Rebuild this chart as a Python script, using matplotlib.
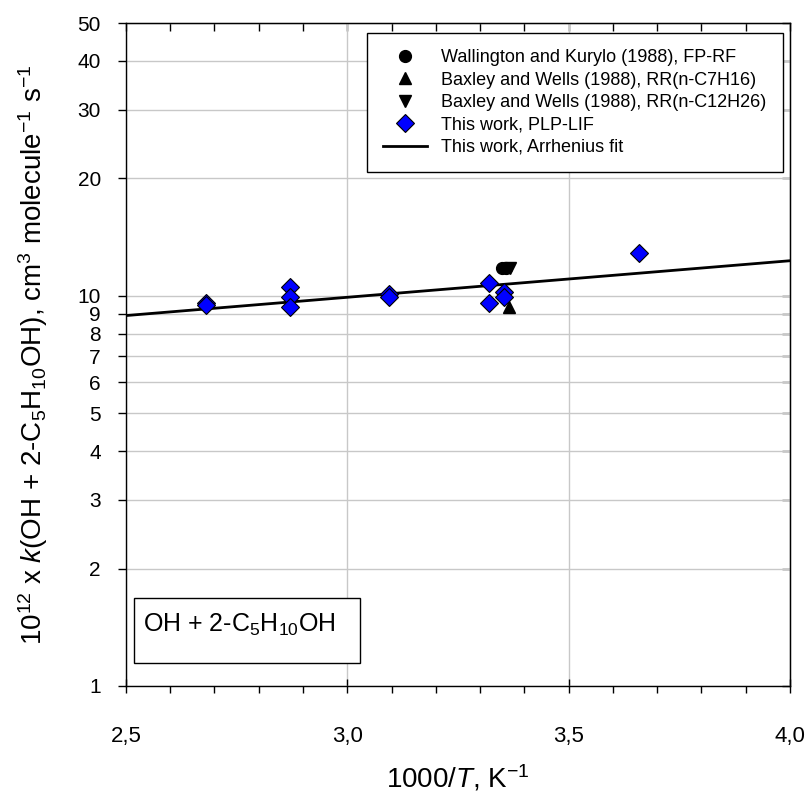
import numpy as np
import matplotlib
matplotlib.use("Agg")
import matplotlib.pyplot as plt
from matplotlib.patches import Rectangle
from matplotlib.ticker import FixedLocator, FixedFormatter, MultipleLocator, NullFormatter

plt.rcParams['font.family'] = ['Liberation Sans', 'DejaVu Sans']
plt.rcParams['mathtext.fontset'] = 'custom'
plt.rcParams['mathtext.rm'] = 'Liberation Sans'
plt.rcParams['mathtext.it'] = 'Liberation Sans:italic'

# Wallington and Kurylo (1988), FP-RF
wk_x = [3.350, 3.358]
wk_y = [11.8, 11.8]
# Baxley and Wells (1988), RR(n-C7H16)
bw7_x = [3.365]
bw7_y = [9.35]
# Baxley and Wells (1988), RR(n-C12H26)
bw12_x = [3.368]
bw12_y = [11.8]
# This work, PLP-LIF
tw_x = [2.68, 2.68, 2.87, 2.87, 2.87, 3.095, 3.095, 3.320, 3.320, 3.353, 3.355, 3.659]
tw_y = [9.6, 9.45, 10.55, 9.95, 9.35, 10.1, 9.95, 10.8, 9.6, 10.25, 9.95, 12.9]
# Arrhenius fit (end points of the straight line on the log scale)
fit_x = [2.5, 4.0]
fit_y = [8.9, 12.3]

yticks = [1, 2, 3, 4, 5, 6, 7, 8, 9, 10, 20, 30, 40, 50]

fig = plt.figure(figsize=(8.09, 7.96), dpi=100)
ax = fig.add_axes([0.1557, 0.1382, 0.8208, 0.8328])

ax.plot(fit_x, fit_y, color="black", lw=2, label="This work, Arrhenius fit", zorder=3)
ax.plot(wk_x, wk_y, "o", color="black", ms=8.5, ls="none", label="Wallington and Kurylo (1988), FP-RF", zorder=4)
ax.plot(bw7_x, bw7_y, "^", color="black", ms=8.5, ls="none", label="Baxley and Wells (1988), RR(n-C7H16)", zorder=4)
ax.plot(bw12_x, bw12_y, "v", color="black", ms=8.5, ls="none", label="Baxley and Wells (1988), RR(n-C12H26)", zorder=4)
ax.plot(tw_x, tw_y, "D", color="#0000ff", mec="black", mew=0.8, ms=9.5, ls="none", label="This work, PLP-LIF", zorder=5)

ax.set_yscale("log")
ax.set_xlim(2.5, 4.0)
ax.set_ylim(1, 50)
ax.yaxis.set_major_locator(FixedLocator(yticks))
ax.yaxis.set_major_formatter(FixedFormatter([str(v) for v in yticks]))
ax.yaxis.set_minor_locator(FixedLocator([]))
ax.yaxis.set_minor_formatter(NullFormatter())
ax.xaxis.set_major_locator(MultipleLocator(0.5))
ax.xaxis.set_minor_locator(MultipleLocator(0.1))
ax.xaxis.set_major_formatter(plt.FuncFormatter(lambda v, p: ("%.1f" % v).replace(".", ",")))

ax.grid(True, which="major", color="#c8c8c8", lw=1)
ax.set_axisbelow(True)
ax.tick_params(axis="x", which="major", direction="inout", length=10, width=1,
               labelsize=16, top=False, pad=24)
ax.tick_params(axis="x", which="minor", direction="out", length=5, width=1, top=False)
ax.tick_params(axis="y", which="major", direction="out", length=6, width=1,
               labelsize=15, right=False, pad=12)
# inward ticks on the top and right frame
sec_x = ax.secondary_xaxis("top")
sec_x.xaxis.set_major_locator(MultipleLocator(0.5))
sec_x.xaxis.set_minor_locator(MultipleLocator(0.1))
sec_x.tick_params(which="both", direction="in", length=6, width=1, labeltop=False)
sec_y = ax.secondary_yaxis("right")
sec_y.yaxis.set_major_locator(FixedLocator(yticks))
sec_y.yaxis.set_minor_locator(FixedLocator([]))
sec_y.tick_params(which="both", direction="in", length=6, width=1, labelright=False)
for s in ax.spines.values():
    s.set_linewidth(1)

ax.set_xlabel(r"1000/$T$, K$^{-1}$", fontsize=20, labelpad=11)
ax.set_ylabel(r"10$^{12}$ x $k$(OH + 2-C$_5$H$_{10}$OH), cm$^3$ molecule$^{-1}$ s$^{-1}$",
              fontsize=20, labelpad=20)

handles, labels = ax.get_legend_handles_labels()
order = [1, 2, 3, 4, 0]
leg = ax.legend([handles[i] for i in order], [labels[i] for i in order],
                loc="upper right", bbox_to_anchor=(0.989, 0.985), fontsize=13,
                fancybox=False, edgecolor="black", framealpha=1, borderpad=0.9,
                labelspacing=0.3, handlelength=2.4, handletextpad=0.8, borderaxespad=0)
leg.get_frame().set_linewidth(1)

ax.add_patch(Rectangle((0.012, 0.035), 0.34, 0.098, transform=ax.transAxes,
                       fc="white", ec="black", lw=1, zorder=6))
ax.text(0.026, 0.092, r"OH + 2-C$_5$H$_{10}$OH", transform=ax.transAxes, fontsize=18,
        va="center", ha="left", zorder=7)

fig.savefig("out.png", dpi=100)
